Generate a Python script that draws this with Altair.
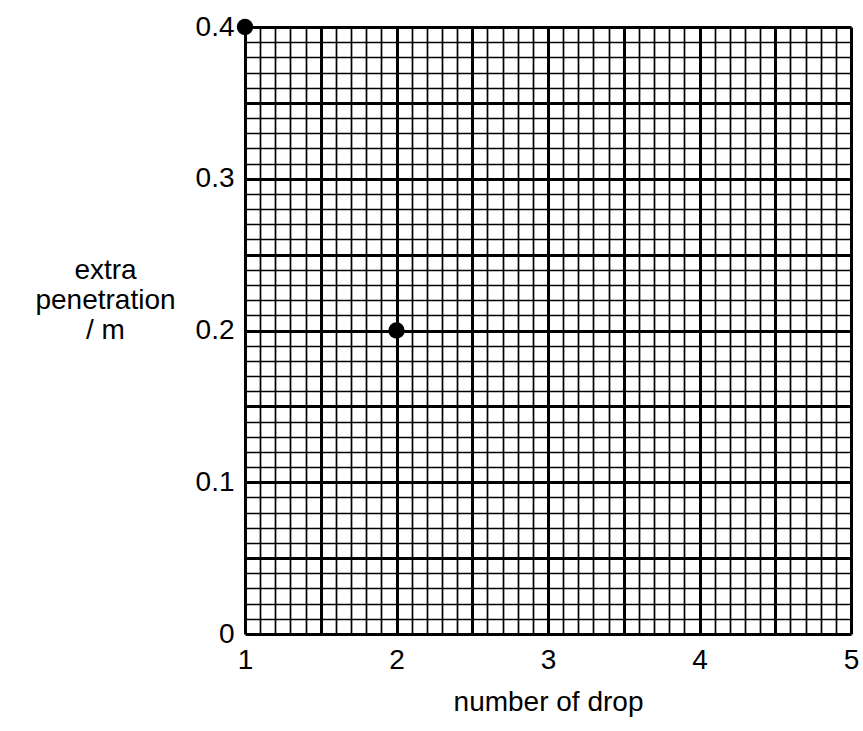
import altair as alt
import pandas as pd

# data points
drops = [1, 2]
penetration = [0.4, 0.2]

# grid (graph paper) tick positions
x_grid = [round(1 + i * 0.1, 2) for i in range(41)]
y_grid = [round(i * 0.01, 2) for i in range(41)]

df = pd.DataFrame({"drop": drops, "pen": penetration})

FONT = "Liberation Sans"

x_axis = alt.Axis(
    values=x_grid,
    grid=True,
    gridColor="black",
    gridOpacity=1,
    gridWidth=alt.condition("abs(datum.value*2 - round(datum.value*2)) < 0.001", alt.value(3), alt.value(1.7)),
    ticks=False,
    domain=False,
    labelExpr="abs(datum.value - round(datum.value)) < 0.001 ? format(datum.value, 'd') : ''",
    labelOverlap=False,
    labelFlush=False,
    labelBound=False,
    labelFont=FONT,
    labelFontSize=28,
    labelColor="black",
    labelPadding=12,
    title="number of drop",
    titleFont=FONT,
    titleFontSize=28,
    titleFontWeight="normal",
    titleColor="black",
    titleAnchor="middle",
    titleBaseline="middle",
    titleX=303,
    titleY=68,
)

y_axis = alt.Axis(
    values=y_grid,
    grid=True,
    gridColor="black",
    gridOpacity=1,
    gridWidth=alt.condition("abs(datum.value*20 - round(datum.value*20)) < 0.001", alt.value(3), alt.value(1.7)),
    ticks=False,
    domain=False,
    labelExpr="abs(datum.value*10 - round(datum.value*10)) < 0.001 ? (abs(datum.value) < 0.001 ? '0' : format(datum.value, '.1f')) : ''",
    labelOverlap=False,
    labelFlush=False,
    labelBound=False,
    labelFont=FONT,
    labelFontSize=28,
    labelColor="black",
    labelPadding=11,
    title=["extra", "penetration", "/ m"],
    titleFont=FONT,
    titleFontSize=28,
    titleFontWeight="normal",
    titleColor="black",
    titleAngle=0,
    titleAlign="center",
    titleBaseline="middle",
    titleLineHeight=30,
    titleX=-140,
    titleY=243,
)

chart = (
    alt.Chart(df)
    .mark_circle(color="black", opacity=1, size=270)
    .encode(
        x=alt.X("drop:Q", scale=alt.Scale(domain=[1, 5], nice=False, zero=False), axis=x_axis),
        y=alt.Y("pen:Q", scale=alt.Scale(domain=[0, 0.4], nice=False), axis=y_axis),
    )
    .properties(
        width=606,
        height=607,
        autosize=alt.AutoSizeParams(type="none"),
        padding={"left": 245, "top": 27, "right": 12, "bottom": 97},
    )
    .configure_view(stroke=None)
    .configure(background="white")
)

chart.save("out.html", embed_options={"renderer": "svg", "actions": False})
